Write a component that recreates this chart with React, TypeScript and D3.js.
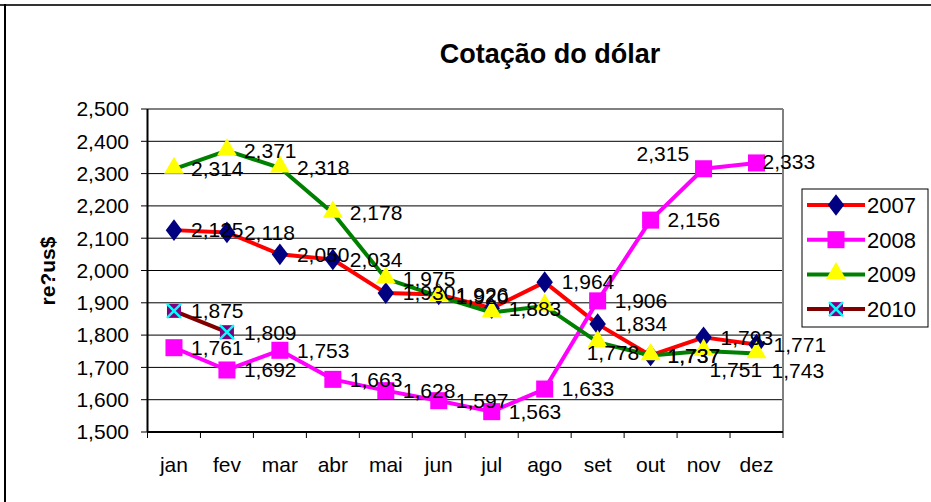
import { scaleBand, scaleLinear, line, format, symbol, symbolDiamond, symbolSquare, symbolTriangle } from 'd3';

const months = ['jan', 'fev', 'mar', 'abr', 'mai', 'jun', 'jul', 'ago', 'set', 'out', 'nov', 'dez'];
const yTicks = [1.5, 1.6, 1.7, 1.8, 1.9, 2.0, 2.1, 2.2, 2.3, 2.4, 2.5];

const v2007 = [2.125, 2.118, 2.05, 2.034, 1.93, 1.926, 1.883, 1.964, 1.834, 1.737, 1.793, 1.771];
const v2008 = [1.761, 1.692, 1.753, 1.663, 1.628, 1.597, 1.563, 1.633, 1.906, 2.156, 2.315, 2.333];
const v2009 = [2.314, 2.371, 2.318, 2.178, 1.975, 1.92, 1.87, 1.89, 1.778, 1.737, 1.751, 1.743];
const v2010 = [1.875, 1.809];

// labels not visible in the original
const hidden2009 = [6, 7];

// labels that were dragged away from their default spot (dx, dy)
const labelNudge: Record<string, [number, number]> = {
  '2008-10': [-84, -15],
  '2008-11': [-11, -1],
  '2009-8': [-28, 10],
  '2009-10': [-11, 19],
  '2009-11': [-2, 17],
};

const series = [
  { name: '2007', values: v2007, line: '#ff0000', marker: 'diamond', fill: '#000080', hidden: [] as number[] },
  { name: '2008', values: v2008, line: '#ff00ff', marker: 'square', fill: '#ff00ff', hidden: [] as number[] },
  { name: '2009', values: v2009, line: '#008000', marker: 'triangle', fill: '#ffff00', hidden: hidden2009 },
  { name: '2010', values: v2010, line: '#800000', marker: 'x', fill: '#800080', hidden: [] as number[] },
];

const W = 931;
const H = 502;
const m = { left: 147.5, right: 783, top: 109, bottom: 432 };
const font = 'Arial, "Liberation Sans", sans-serif';
const fmt = (v: number) => format('.3f')(v).replace('.', ',');

const Marker = ({ kind, fill, x, y }: { kind: string; fill: string; x: number; y: number }) => {
  if (kind === 'diamond') {
    return <path d={symbol(symbolDiamond, 150)()!} transform={`translate(${x},${y}) scale(1.25,0.95)`} fill={fill} />;
  }
  if (kind === 'square') {
    return <path d={symbol(symbolSquare, 290)()!} transform={`translate(${x},${y})`} fill={fill} />;
  }
  if (kind === 'triangle') {
    return <path d={symbol(symbolTriangle, 170)()!} transform={`translate(${x},${y - 1})`} fill={fill} />;
  }
  return (
    <g transform={`translate(${x},${y})`}>
      <rect x={-7} y={-7} width={14} height={14} fill={fill} />
      <path d="M-7,-7L7,7M7,-7L-7,7" stroke="#00ffff" strokeWidth={2.5} />
    </g>
  );
};

export default function App() {
  const x = scaleBand<string>().domain(months).range([m.left, m.right]);
  const y = scaleLinear().domain([1.5, 2.5]).range([m.bottom, m.top]);
  const cx = (i: number) => x(months[i])! + x.bandwidth() / 2;
  const path = line<number>().x((_, i) => cx(i)).y(d => y(d));
  const bounds = [...months.map(d => x(d)!), m.right];

  return (
    <svg width={W} height={H} style={{ position: 'absolute', left: 0, top: 0, background: '#fff' }} fontFamily={font}>
      <line x1={0} x2={W} y1={5} y2={5} stroke="#333" strokeWidth={2} />
      <line x1={5} x2={5} y1={4} y2={H} stroke="#000" strokeWidth={2} />

      <text x={550} y={63} textAnchor="middle" fontSize={27} fontWeight="bold">Cotação do dólar</text>

      {yTicks.map(t => (
        <g key={t}>
          <line x1={m.left} x2={m.right} y1={y(t)} y2={y(t)} stroke="#000" strokeWidth={1} />
          <line x1={141} x2={m.left} y1={y(t)} y2={y(t)} stroke="#000" strokeWidth={1} />
          <text x={129} y={y(t)} dy="0.35em" textAnchor="end" fontSize={21}>{fmt(t)}</text>
        </g>
      ))}
      <line x1={m.left} x2={m.right} y1={m.top} y2={m.top} stroke="#808080" strokeWidth={2} />
      <line x1={m.right} x2={m.right} y1={m.top} y2={m.bottom} stroke="#808080" strokeWidth={2} />
      <line x1={m.left} x2={m.left} y1={m.top} y2={m.bottom} stroke="#000" strokeWidth={2} />
      <line x1={m.left} x2={m.right} y1={m.bottom} y2={m.bottom} stroke="#000" strokeWidth={2} />
      {bounds.map((b, i) => (
        <line key={i} x1={b} x2={b} y1={m.bottom} y2={m.bottom + 6} stroke="#000" strokeWidth={1} />
      ))}
      {months.map((d, i) => (
        <text key={d} x={cx(i)} y={472} textAnchor="middle" fontSize={21}>{d}</text>
      ))}

      <text transform={`translate(55,271) rotate(-90)`} textAnchor="middle" fontSize={21} fontWeight="bold">re?us$</text>

      {series.map(s => (
        <g key={s.name}>
          <path d={path(s.values)!} fill="none" stroke={s.line} strokeWidth={4} strokeLinejoin="round" />
          {s.values.map((v, i) => (
            <Marker key={i} kind={s.marker} fill={s.fill} x={cx(i)} y={y(v)} />
          ))}
        </g>
      ))}
      {series.map(s =>
        s.values.map((v, i) => {
          if (s.hidden.includes(i)) return null;
          const [dx, dy] = labelNudge[`${s.name}-${i}`] || [0, 0];
          return (
            <text key={s.name + i} x={cx(i) + 17 + dx} y={y(v) + dy} dy="0.35em" fontSize={21}>{fmt(v)}</text>
          );
        })
      )}

      <rect x={802} y={189} width={126} height={138} fill="#fff" stroke="#000" strokeWidth={1} />
      {series.map((s, i) => {
        const ly = 205 + i * 34.7;
        return (
          <g key={s.name}>
            <line x1={807} x2={865} y1={ly} y2={ly} stroke={s.line} strokeWidth={4} />
            <Marker kind={s.marker} fill={s.fill} x={836} y={ly} />
            <text x={867} y={ly} dy="0.36em" fontSize={22}>{s.name}</text>
          </g>
        );
      })}
    </svg>
  );
}
